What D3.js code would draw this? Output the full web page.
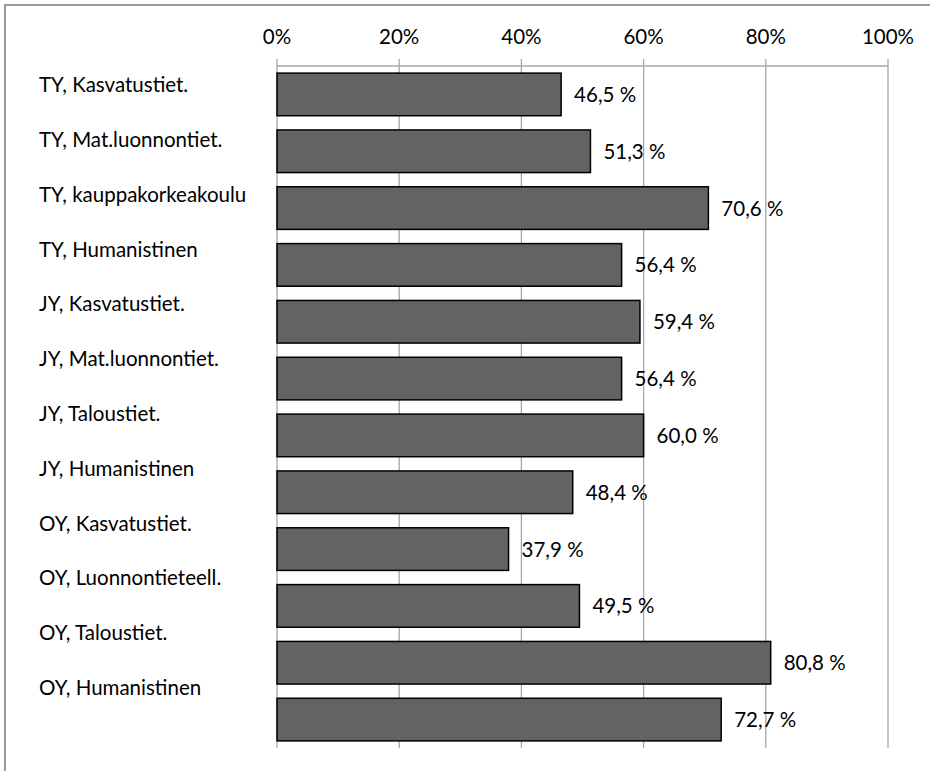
<!DOCTYPE html>
<html><head><meta charset="utf-8">
<script src="https://cdn.jsdelivr.net/npm/d3@7"></script>
<style>body{margin:0;background:#fff}svg{display:block}text{font-family:Lato,"Open Sans",sans-serif;fill:#000}</style>
</head><body>
<svg id="c" width="930" height="771"></svg>
<script>
const categories = ["TY, Kasvatustiet.","TY, Mat.luonnontiet.","TY, kauppakorkeakoulu","TY, Humanistinen","JY, Kasvatustiet.","JY, Mat.luonnontiet.","JY, Taloustiet.","JY, Humanistinen","OY, Kasvatustiet.","OY, Luonnontieteell.","OY, Taloustiet.","OY, Humanistinen"];
const values = [46.5,51.3,70.6,56.4,59.4,56.4,60.0,48.4,37.9,49.5,80.8,72.7];
const tickValues = [0,20,40,60,80,100];

const svg = d3.select("#c");
const FS = "20.5px";
// outer border
svg.append("rect").attr("x",5).attr("y",5).attr("width",940).attr("height",800)
  .attr("fill","none").attr("stroke","#9a9a9a").attr("stroke-width",2);

const x = d3.scaleLinear().domain([0,100]).range([277,888]);
const y = d3.scaleBand().domain(categories).range([66,748]).paddingInner(0.25).paddingOuter(0.125);
const yl = d3.scalePoint().domain(categories).range([92.3,695]);

// gridlines
svg.append("g").selectAll("line").data(tickValues).join("line")
  .attr("x1",d=>x(d)).attr("x2",d=>x(d)).attr("y1",59).attr("y2",748)
  .attr("stroke","#a6a6a6").attr("stroke-width",1.3);
// axis line
svg.append("line").attr("x1",x(0)).attr("x2",x(100)).attr("y1",66).attr("y2",66)
  .attr("stroke","#a6a6a6").attr("stroke-width",1.3);
// tick labels
svg.append("g").selectAll("text").data(tickValues).join("text")
  .attr("x",d=>x(d)).attr("y",44).attr("text-anchor","middle")
  .style("font-size",FS).text(d=>d+"%");

// bars
svg.append("g").selectAll("rect").data(values).join("rect")
  .attr("x",x(0)).attr("y",(d,i)=>y(categories[i]))
  .attr("width",d=>x(d)-x(0)).attr("height",y.bandwidth())
  .attr("fill","#636363").attr("stroke","#000").attr("stroke-width",1.5);

// value labels
svg.append("g").selectAll("text").data(values).join("text")
  .attr("x",d=>x(d)+13).attr("y",(d,i)=>y(categories[i])+y.bandwidth()/2+7.5)
  .style("font-size",FS).text(d=>d.toFixed(1).replace(".",",")+" %");

// category labels
svg.append("g").selectAll("text").data(categories).join("text")
  .attr("x",39).attr("y",d=>yl(d))
  .style("font-size",FS).text(d=>d);
</script>
</body></html>
